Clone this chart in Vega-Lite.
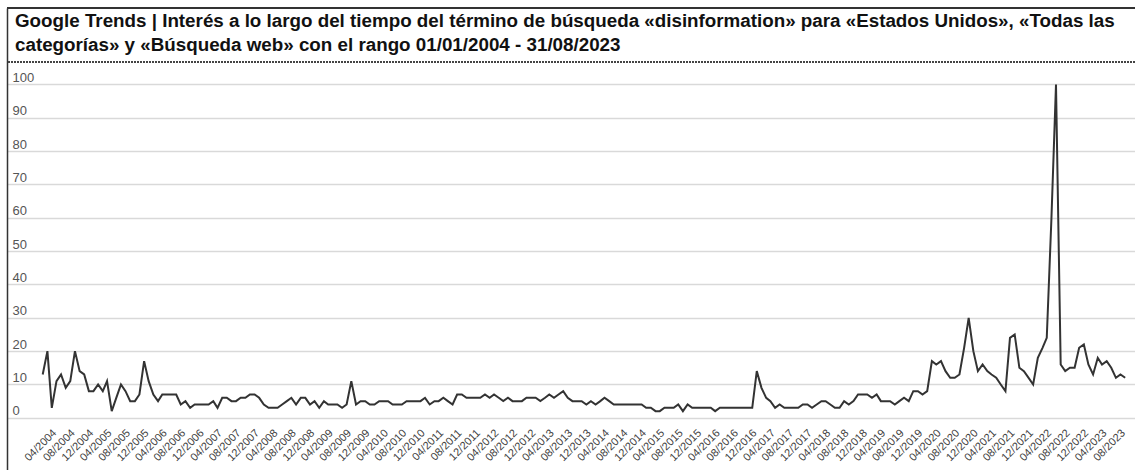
{
 "$schema": "https://vega.github.io/schema/vega-lite/v6.json",
 "width": 1128,
 "height": 462,
 "autosize": "none",
 "padding": {"left": 7, "top": 8, "right": 0, "bottom": 0},
 "background": "white",
 "title": {
  "text": ["Google Trends | Interés a lo largo del tiempo del término de búsqueda «disinformation» para «Estados Unidos», «Todas las", "categorías» y «Búsqueda web» con el rango 01/01/2004 - 31/08/2023"],
  "anchor": "start", "frame": "group", "orient": "top", "baseline": "top",
  "offset": -48, "dx": 8, "font": "Liberation Sans", "fontSize": 18.8, "fontWeight": "bold",
  "color": "#111111", "lineHeight": 24
 },
 "data": {"values": [
{"d":"2004-01-01","v":13},{"d":"2004-02-01","v":20},{"d":"2004-03-01","v":3},{"d":"2004-04-01","v":11},{"d":"2004-05-01","v":13},{"d":"2004-06-01","v":9},{"d":"2004-07-01","v":11},{"d":"2004-08-01","v":20},{"d":"2004-09-01","v":14},{"d":"2004-10-01","v":13},{"d":"2004-11-01","v":8},{"d":"2004-12-01","v":8},
{"d":"2005-01-01","v":10},{"d":"2005-02-01","v":8},{"d":"2005-03-01","v":11},{"d":"2005-04-01","v":2},{"d":"2005-05-01","v":6},{"d":"2005-06-01","v":10},{"d":"2005-07-01","v":8},{"d":"2005-08-01","v":5},{"d":"2005-09-01","v":5},{"d":"2005-10-01","v":7},{"d":"2005-11-01","v":17},{"d":"2005-12-01","v":11},
{"d":"2006-01-01","v":7},{"d":"2006-02-01","v":5},{"d":"2006-03-01","v":7},{"d":"2006-04-01","v":7},{"d":"2006-05-01","v":7},{"d":"2006-06-01","v":7},{"d":"2006-07-01","v":4},{"d":"2006-08-01","v":5},{"d":"2006-09-01","v":3},{"d":"2006-10-01","v":4},{"d":"2006-11-01","v":4},{"d":"2006-12-01","v":4},
{"d":"2007-01-01","v":4},{"d":"2007-02-01","v":5},{"d":"2007-03-01","v":3},{"d":"2007-04-01","v":6},{"d":"2007-05-01","v":6},{"d":"2007-06-01","v":5},{"d":"2007-07-01","v":5},{"d":"2007-08-01","v":6},{"d":"2007-09-01","v":6},{"d":"2007-10-01","v":7},{"d":"2007-11-01","v":7},{"d":"2007-12-01","v":6},
{"d":"2008-01-01","v":4},{"d":"2008-02-01","v":3},{"d":"2008-03-01","v":3},{"d":"2008-04-01","v":3},{"d":"2008-05-01","v":4},{"d":"2008-06-01","v":5},{"d":"2008-07-01","v":6},{"d":"2008-08-01","v":4},{"d":"2008-09-01","v":6},{"d":"2008-10-01","v":6},{"d":"2008-11-01","v":4},{"d":"2008-12-01","v":5},
{"d":"2009-01-01","v":3},{"d":"2009-02-01","v":5},{"d":"2009-03-01","v":4},{"d":"2009-04-01","v":4},{"d":"2009-05-01","v":4},{"d":"2009-06-01","v":3},{"d":"2009-07-01","v":4},{"d":"2009-08-01","v":11},{"d":"2009-09-01","v":4},{"d":"2009-10-01","v":5},{"d":"2009-11-01","v":5},{"d":"2009-12-01","v":4},
{"d":"2010-01-01","v":4},{"d":"2010-02-01","v":5},{"d":"2010-03-01","v":5},{"d":"2010-04-01","v":5},{"d":"2010-05-01","v":4},{"d":"2010-06-01","v":4},{"d":"2010-07-01","v":4},{"d":"2010-08-01","v":5},{"d":"2010-09-01","v":5},{"d":"2010-10-01","v":5},{"d":"2010-11-01","v":5},{"d":"2010-12-01","v":6},
{"d":"2011-01-01","v":4},{"d":"2011-02-01","v":5},{"d":"2011-03-01","v":5},{"d":"2011-04-01","v":6},{"d":"2011-05-01","v":5},{"d":"2011-06-01","v":4},{"d":"2011-07-01","v":7},{"d":"2011-08-01","v":7},{"d":"2011-09-01","v":6},{"d":"2011-10-01","v":6},{"d":"2011-11-01","v":6},{"d":"2011-12-01","v":6},
{"d":"2012-01-01","v":7},{"d":"2012-02-01","v":6},{"d":"2012-03-01","v":7},{"d":"2012-04-01","v":6},{"d":"2012-05-01","v":5},{"d":"2012-06-01","v":6},{"d":"2012-07-01","v":5},{"d":"2012-08-01","v":5},{"d":"2012-09-01","v":5},{"d":"2012-10-01","v":6},{"d":"2012-11-01","v":6},{"d":"2012-12-01","v":6},
{"d":"2013-01-01","v":5},{"d":"2013-02-01","v":6},{"d":"2013-03-01","v":7},{"d":"2013-04-01","v":6},{"d":"2013-05-01","v":7},{"d":"2013-06-01","v":8},{"d":"2013-07-01","v":6},{"d":"2013-08-01","v":5},{"d":"2013-09-01","v":5},{"d":"2013-10-01","v":5},{"d":"2013-11-01","v":4},{"d":"2013-12-01","v":5},
{"d":"2014-01-01","v":4},{"d":"2014-02-01","v":5},{"d":"2014-03-01","v":6},{"d":"2014-04-01","v":5},{"d":"2014-05-01","v":4},{"d":"2014-06-01","v":4},{"d":"2014-07-01","v":4},{"d":"2014-08-01","v":4},{"d":"2014-09-01","v":4},{"d":"2014-10-01","v":4},{"d":"2014-11-01","v":4},{"d":"2014-12-01","v":3},
{"d":"2015-01-01","v":3},{"d":"2015-02-01","v":2},{"d":"2015-03-01","v":2},{"d":"2015-04-01","v":3},{"d":"2015-05-01","v":3},{"d":"2015-06-01","v":3},{"d":"2015-07-01","v":4},{"d":"2015-08-01","v":2},{"d":"2015-09-01","v":4},{"d":"2015-10-01","v":3},{"d":"2015-11-01","v":3},{"d":"2015-12-01","v":3},
{"d":"2016-01-01","v":3},{"d":"2016-02-01","v":3},{"d":"2016-03-01","v":2},{"d":"2016-04-01","v":3},{"d":"2016-05-01","v":3},{"d":"2016-06-01","v":3},{"d":"2016-07-01","v":3},{"d":"2016-08-01","v":3},{"d":"2016-09-01","v":3},{"d":"2016-10-01","v":3},{"d":"2016-11-01","v":3},{"d":"2016-12-01","v":14},
{"d":"2017-01-01","v":9},{"d":"2017-02-01","v":6},{"d":"2017-03-01","v":5},{"d":"2017-04-01","v":3},{"d":"2017-05-01","v":4},{"d":"2017-06-01","v":3},{"d":"2017-07-01","v":3},{"d":"2017-08-01","v":3},{"d":"2017-09-01","v":3},{"d":"2017-10-01","v":4},{"d":"2017-11-01","v":4},{"d":"2017-12-01","v":3},
{"d":"2018-01-01","v":4},{"d":"2018-02-01","v":5},{"d":"2018-03-01","v":5},{"d":"2018-04-01","v":4},{"d":"2018-05-01","v":3},{"d":"2018-06-01","v":3},{"d":"2018-07-01","v":5},{"d":"2018-08-01","v":4},{"d":"2018-09-01","v":5},{"d":"2018-10-01","v":7},{"d":"2018-11-01","v":7},{"d":"2018-12-01","v":7},
{"d":"2019-01-01","v":6},{"d":"2019-02-01","v":7},{"d":"2019-03-01","v":5},{"d":"2019-04-01","v":5},{"d":"2019-05-01","v":5},{"d":"2019-06-01","v":4},{"d":"2019-07-01","v":5},{"d":"2019-08-01","v":6},{"d":"2019-09-01","v":5},{"d":"2019-10-01","v":8},{"d":"2019-11-01","v":8},{"d":"2019-12-01","v":7},
{"d":"2020-01-01","v":8},{"d":"2020-02-01","v":17},{"d":"2020-03-01","v":16},{"d":"2020-04-01","v":17},{"d":"2020-05-01","v":14},{"d":"2020-06-01","v":12},{"d":"2020-07-01","v":12},{"d":"2020-08-01","v":13},{"d":"2020-09-01","v":21},{"d":"2020-10-01","v":30},{"d":"2020-11-01","v":20},{"d":"2020-12-01","v":14},
{"d":"2021-01-01","v":16},{"d":"2021-02-01","v":14},{"d":"2021-03-01","v":13},{"d":"2021-04-01","v":12},{"d":"2021-05-01","v":10},{"d":"2021-06-01","v":8},{"d":"2021-07-01","v":24},{"d":"2021-08-01","v":25},{"d":"2021-09-01","v":15},{"d":"2021-10-01","v":14},{"d":"2021-11-01","v":12},{"d":"2021-12-01","v":10},
{"d":"2022-01-01","v":18},{"d":"2022-02-01","v":21},{"d":"2022-03-01","v":24},{"d":"2022-04-01","v":60},{"d":"2022-05-01","v":100},{"d":"2022-06-01","v":16},{"d":"2022-07-01","v":14},{"d":"2022-08-01","v":15},{"d":"2022-09-01","v":15},{"d":"2022-10-01","v":21},{"d":"2022-11-01","v":22},{"d":"2022-12-01","v":16},
{"d":"2023-01-01","v":13},{"d":"2023-02-01","v":18},{"d":"2023-03-01","v":16},{"d":"2023-04-01","v":17},{"d":"2023-05-01","v":15},{"d":"2023-06-01","v":12},{"d":"2023-07-01","v":13},{"d":"2023-08-01","v":12}
 ]},
 "layer": [
  {
   "mark": {"type": "rule", "stroke": "#444444", "strokeWidth": 1.5, "strokeDash": [1.5, 1.5]},
   "encoding": {"y": {"datum": 106.7, "type": "quantitative", "scale": {"domain": [-15.66, 122.95], "nice": false, "zero": false}}}
  },
  {
   "mark": {"type": "rule", "stroke": "#333333", "strokeWidth": 1.5},
   "encoding": {"y": {"datum": 122.95, "type": "quantitative", "scale": {"domain": [-15.66, 122.95], "nice": false, "zero": false}}}
  },
  {
   "mark": {"type": "line", "stroke": "#333333", "strokeWidth": 2, "interpolate": "linear"},
   "encoding": {
    "x": {"field": "d", "type": "temporal",
     "scale": {"type": "utc", "domain": [{"year": 2003, "month": 5, "date": 10, "utc": true}, {"year": 2023, "month": 10, "date": 5, "utc": true}], "nice": false},
     "axis": {
      "values": [
       {"year":2004,"month":4,"date":1,"utc":true},{"year":2004,"month":8,"date":1,"utc":true},{"year":2004,"month":12,"date":1,"utc":true},
       {"year":2005,"month":4,"date":1,"utc":true},{"year":2005,"month":8,"date":1,"utc":true},{"year":2005,"month":12,"date":1,"utc":true},
       {"year":2006,"month":4,"date":1,"utc":true},{"year":2006,"month":8,"date":1,"utc":true},{"year":2006,"month":12,"date":1,"utc":true},
       {"year":2007,"month":4,"date":1,"utc":true},{"year":2007,"month":8,"date":1,"utc":true},{"year":2007,"month":12,"date":1,"utc":true},
       {"year":2008,"month":4,"date":1,"utc":true},{"year":2008,"month":8,"date":1,"utc":true},{"year":2008,"month":12,"date":1,"utc":true},
       {"year":2009,"month":4,"date":1,"utc":true},{"year":2009,"month":8,"date":1,"utc":true},{"year":2009,"month":12,"date":1,"utc":true},
       {"year":2010,"month":4,"date":1,"utc":true},{"year":2010,"month":8,"date":1,"utc":true},{"year":2010,"month":12,"date":1,"utc":true},
       {"year":2011,"month":4,"date":1,"utc":true},{"year":2011,"month":8,"date":1,"utc":true},{"year":2011,"month":12,"date":1,"utc":true},
       {"year":2012,"month":4,"date":1,"utc":true},{"year":2012,"month":8,"date":1,"utc":true},{"year":2012,"month":12,"date":1,"utc":true},
       {"year":2013,"month":4,"date":1,"utc":true},{"year":2013,"month":8,"date":1,"utc":true},{"year":2013,"month":12,"date":1,"utc":true},
       {"year":2014,"month":4,"date":1,"utc":true},{"year":2014,"month":8,"date":1,"utc":true},{"year":2014,"month":12,"date":1,"utc":true},
       {"year":2015,"month":4,"date":1,"utc":true},{"year":2015,"month":8,"date":1,"utc":true},{"year":2015,"month":12,"date":1,"utc":true},
       {"year":2016,"month":4,"date":1,"utc":true},{"year":2016,"month":8,"date":1,"utc":true},{"year":2016,"month":12,"date":1,"utc":true},
       {"year":2017,"month":4,"date":1,"utc":true},{"year":2017,"month":8,"date":1,"utc":true},{"year":2017,"month":12,"date":1,"utc":true},
       {"year":2018,"month":4,"date":1,"utc":true},{"year":2018,"month":8,"date":1,"utc":true},{"year":2018,"month":12,"date":1,"utc":true},
       {"year":2019,"month":4,"date":1,"utc":true},{"year":2019,"month":8,"date":1,"utc":true},{"year":2019,"month":12,"date":1,"utc":true},
       {"year":2020,"month":4,"date":1,"utc":true},{"year":2020,"month":8,"date":1,"utc":true},{"year":2020,"month":12,"date":1,"utc":true},
       {"year":2021,"month":4,"date":1,"utc":true},{"year":2021,"month":8,"date":1,"utc":true},{"year":2021,"month":12,"date":1,"utc":true},
       {"year":2022,"month":4,"date":1,"utc":true},{"year":2022,"month":8,"date":1,"utc":true},{"year":2022,"month":12,"date":1,"utc":true},
       {"year":2023,"month":4,"date":1,"utc":true},{"year":2023,"month":8,"date":1,"utc":true}
      ],
      "format": "%m/%Y", "labelAngle": -45, "labelAlign": "right", "labelBaseline": "middle",
      "labelFont": "Liberation Sans", "labelFontSize": 11, "labelColor": "#404040",
      "labelPadding": 4, "labelOffset": -2, "offset": -43,
      "domain": false, "ticks": false, "tickSize": 0, "grid": false, "title": null,
      "labelOverlap": false, "labelBound": false, "labelFlush": false
     }
    },
    "y": {"field": "v", "type": "quantitative",
     "scale": {"domain": [-15.66, 122.95], "nice": false, "zero": false},
     "axis": {
      "values": [0, 10, 20, 30, 40, 50, 60, 70, 80, 90, 100],
      "grid": true, "gridColor": "#d9d9d9", "gridWidth": 1.5,
      "domain": true, "domainColor": "#333333", "domainWidth": 1.5,
      "ticks": false, "tickSize": 0,
      "labelAlign": "left", "labelBaseline": "alphabetic", "labelPadding": -5, "labelOffset": -3,
      "labelFont": "Liberation Sans", "labelFontSize": 13, "labelColor": "#555555",
      "title": null, "labelFlush": false, "labelOverlap": false
     }
    }
   }
  }
 ],
 "config": {"view": {"stroke": null}}
}
